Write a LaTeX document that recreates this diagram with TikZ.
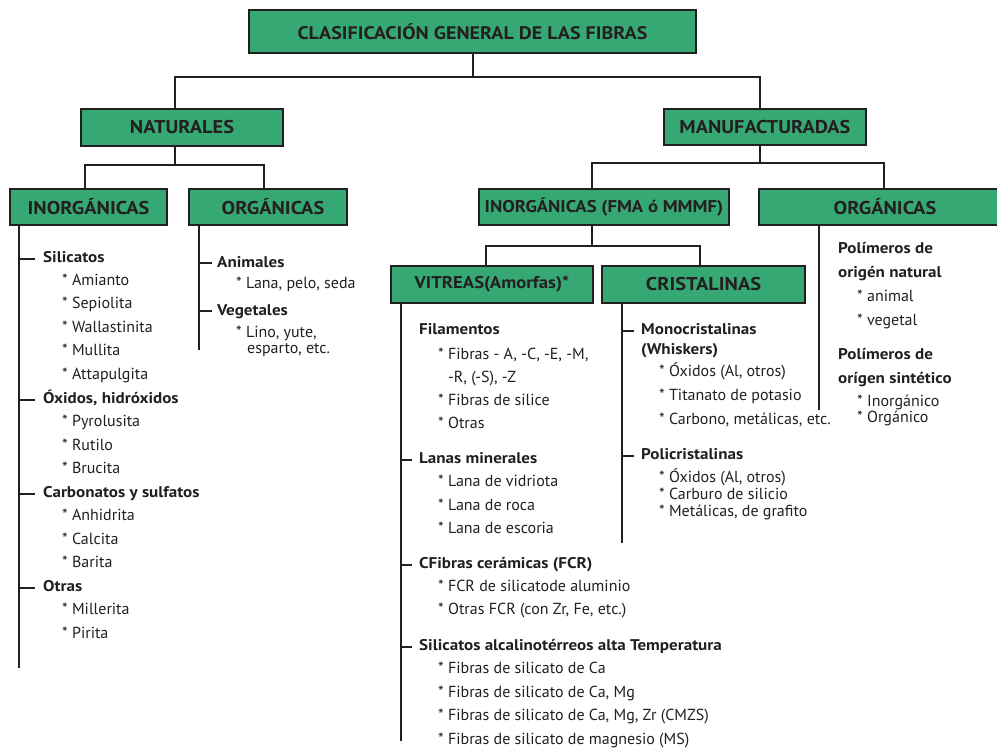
\documentclass[tikz,border=0pt]{standalone}
\usepackage{fontspec}
\setmainfont{PT Sans}[BoldFeatures={FakeStretch=1.1}]
\definecolor{ink}{HTML}{231F20}
\definecolor{fibgreen}{RGB}{54,168,116}

\begin{document}
\begin{tikzpicture}[
    x=1pt, y=-1pt,
    every node/.style={text=ink},
    box/.style={rectangle, draw=ink, line width=1.2pt, fill=fibgreen, inner sep=0pt, minimum height=36pt, font=\bfseries\fontsize{18.5}{20}\selectfont},
    link/.style={draw=ink, line width=2pt},
    head/.style={anchor=base west, inner sep=0pt, font=\bfseries\fontsize{15.5}{17}\selectfont},
    item/.style={anchor=base west, inner sep=0pt, font=\fontsize{16}{17}\selectfont}
]
  \useasboundingbox (0,0) rectangle (997,748);

  % green boxes
  \node[box, minimum width=447pt, minimum height=43pt, font=\bfseries\fontsize{18.2}{20}\selectfont] (top) at (472.5,31.5) {CLASIFICACIÓN GENERAL DE LAS FIBRAS};
  \node[box, minimum width=202pt, minimum height=37pt] (nat) at (182,127.5) {NATURALES};
  \node[box, minimum width=202pt] (man) at (765,127) {MANUFACTURADAS};
  \node[box, minimum width=157pt] (inl) at (88.5,207) {INORGÁNICAS};
  \node[box, minimum width=158pt] (orl) at (268,207) {\hspace{10pt}ORGÁNICAS};
  \node[box, minimum width=250pt, font=\bfseries\fontsize{17}{20}\selectfont] (inm) at (604,207) {INORGÁNICAS (FMA ó MMMF)};
  \node[box, minimum width=240pt] (orr) at (879,207) {\hspace{12pt}ORGÁNICAS};
  \node[box, minimum width=202pt, minimum height=37pt, font=\bfseries\fontsize{17}{20}\selectfont] (vit) at (492,284.5) {VITREAS(Amorfas)*};
  \node[box, minimum width=203pt, minimum height=37pt] (cri) at (703.5,284.5) {CRISTALINAS};

  % tree
  \draw[link] (top.south) -- ++(0,23) coordinate (bustop);
  \draw[link] ([xshift=-7pt]nat.north) |- (bustop) -| ([xshift=-5pt]man.north);
  \draw[link] ([xshift=-7pt]nat.south) -- ++(0,18) coordinate (busnat);
  \draw[link] ([xshift=-3.5pt]inl.north) |- (busnat) -| ([xshift=-4pt]orl.north);
  \draw[link] ([xshift=-5pt]man.south) -- ++(0,17) coordinate (busman);
  \draw[link] ([xshift=-12pt]inm.north) |- (busman) -| ([xshift=5pt]orr.north);
  \draw[link] ([xshift=-12pt]inm.south) -- ++(0,20) coordinate (businm);
  \draw[link] ([xshift=-6pt]vit.north) |- (businm) -| ([xshift=-3.5pt]cri.north);

  % list rails
  \coordinate (tinl) at ([xshift=10pt]inl.south west);
  \coordinate (torl) at ([xshift=11pt]orl.south west);
  \coordinate (tvit) at ([xshift=11pt]vit.south west);
  \coordinate (tcri) at ([xshift=21pt]cri.south west);
  \coordinate (torr) at ([xshift=61pt]orr.south west);
  \draw[link] (tinl) -- ++(0,442);
  \draw[link] (torl) -- ++(0,124);
  \draw[link] (tvit) -- ++(0,437);
  \draw[link] (tcri) -- ++(0,239);
  \draw[link] (torr) -- ++(0,184);

  % naturales, inorganicas
  \foreach \y/\n/\t in {262/hsil/Silicatos, 403/hoxi/{Óxidos, hidróxidos}, 497/hcar/Carbonatos y sulfatos, 591/hotr/Otras}
    \node[head] (\n) at (43,\y) {\t};
  \foreach \y/\t [count=\i] in {285/Amianto, 308/Sepiolita, 332/Wallastinita, 355/Mullita, 379/Attapulgita,
      426/Pyrolusita, 450/Rutilo, 473/Brucita, 520/Anhidrita, 544/Calcita, 567/Barita, 614/Millerita, 638/Pirita}
    \node[item] (inl\i) at (62,\y) {* \t};
  \foreach \h in {hsil,hoxi,hcar,hotr}
    \draw[link] (tinl |- \h.base) ++(0,-3) -- ++(16,0);

  % naturales, organicas
  \node[head] (hani) at (217,267) {Animales};
  \node[head] (hveg) at (217,315) {Vegetales};
  \node[item] (orl1) at (236,288) {* Lana, pelo, seda};
  \node[item] (orl2) at (236,337) {* Lino, yute,};
  \node[item] (orl3) at (247,353) {esparto, etc.};
  \foreach \h in {hani,hveg}
    \draw[link] (torl |- \h.base) ++(0,-4) -- ++(13,0);

  % vitreas
  \foreach \y/\n/\t in {334/hfil/Filamentos, 463/hlan/Lanas minerales, 568/hcfi/CFibras cerámicas (FCR), 650/hsal/Silicatos alcalinotérreos alta Temperatura}
    \node[head] (\n) at (419,\y) {\t};
  \foreach \y/\t [count=\i] in {359/{Fibras - A, -C, -E, -M,}, 405/Fibras de silice, 428/Otras,
      486/Lana de vidriota, 510/Lana de roca, 533/Lana de escoria,
      591/FCR de silicatode aluminio, 614/{Otras FCR (con Zr, Fe, etc.)},
      673/Fibras de silicato de Ca, 697/{Fibras de silicato de Ca, Mg},
      720/{Fibras de silicato de Ca, Mg, Zr (CMZS)}, 744/Fibras de silicato de magnesio (MS)}
    \node[item] (vit\i) at (438,\y) {* \t};
  \node[item] (vitr) at (448,382) {-R, (-S), -Z};
  \foreach \h in {hlan,hcfi,hsal}
    \draw[link] (tvit |- \h.base) ++(0,-3) -- ++(11,0);

  % cristalinas
  \node[head] (hmon) at (641,334) {Monocristalinas};
  \node[head] (hwhi) at (641,354) {(Whiskers)};
  \node[head] (hpol) at (641,459) {Policristalinas};
  \foreach \y/\t [count=\i] in {376/{Óxidos (Al, otros)}, 400/Titanato de potasio, 424/{Carbono, metálicas, etc.},
      482/{Óxidos (Al, otros)}, 499/Carburo de silicio, 516/{Metálicas, de grafito}}
    \node[item] (cri\i) at (659,\y) {* \t};
  \foreach \h in {hmon,hpol}
    \draw[link] (tcri |- \h.base) ++(0,-3) -- ++(12,0);

  % manufacturadas, organicas
  \foreach \y/\n/\t in {253/hpn1/Polímeros de, 277/hpn2/origén natural, 359/hps1/Polímeros de, 383/hps2/orígen sintético}
    \node[head] (\n) at (838,\y) {\t};
  \foreach \y/\t [count=\i] in {301/animal, 325/vegetal, 406/Inorgánico, 422/Orgánico}
    \node[item] (orr\i) at (857,\y) {* \t};

\end{tikzpicture}
\end{document}
